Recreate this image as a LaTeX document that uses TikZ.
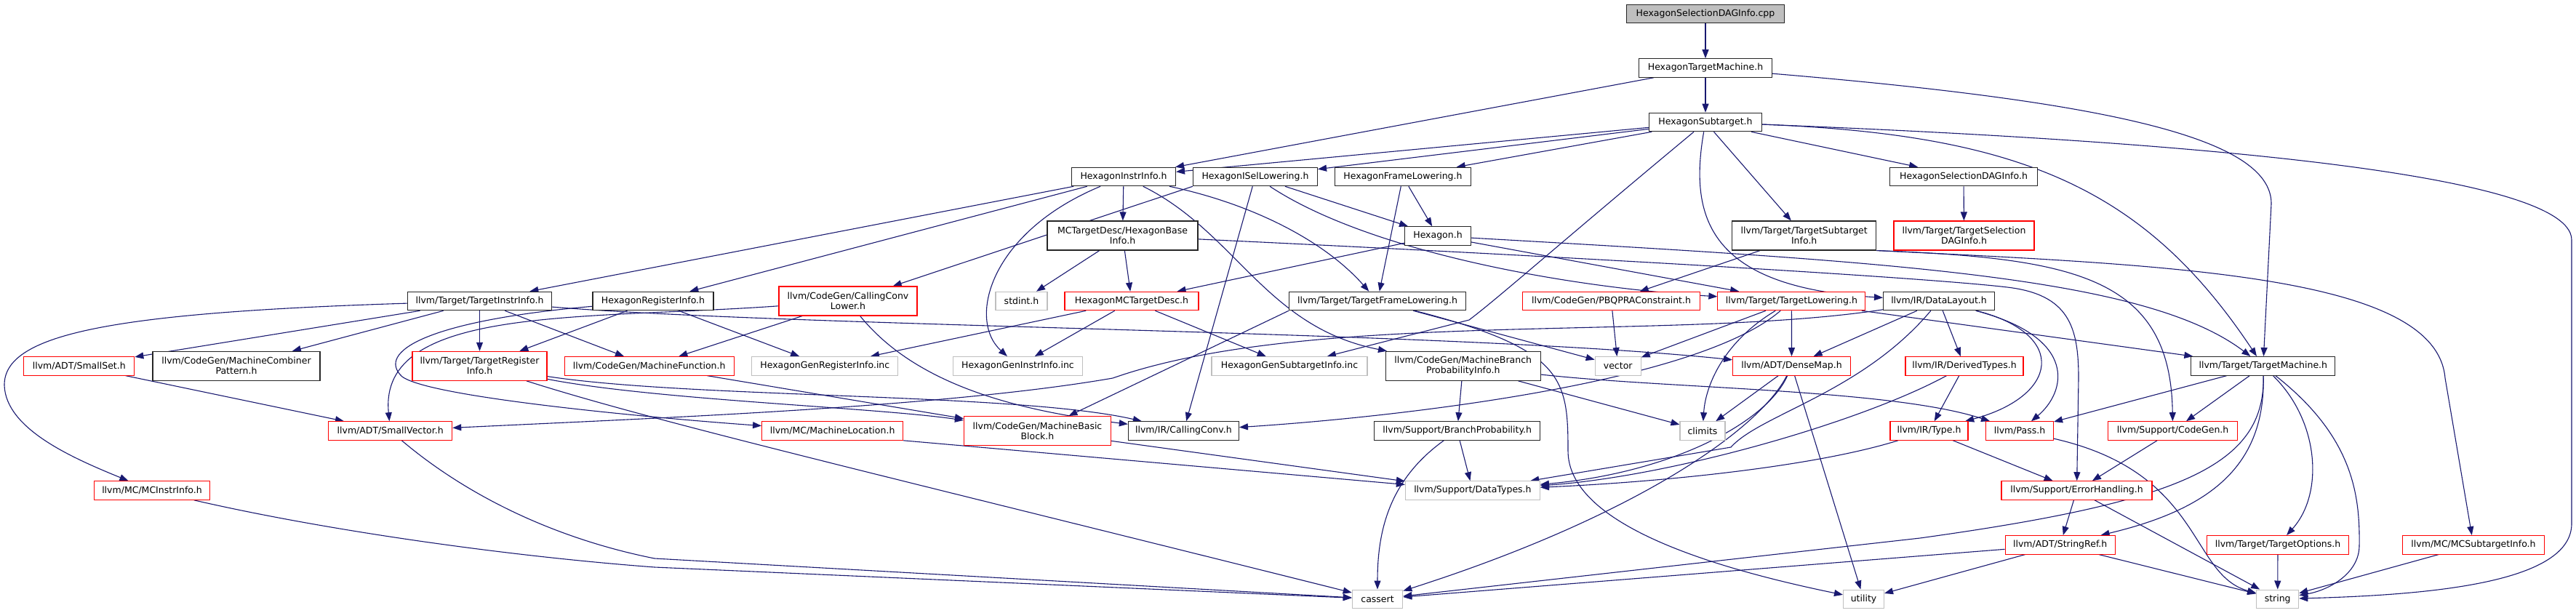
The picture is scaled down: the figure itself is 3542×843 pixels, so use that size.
\documentclass[tikz,border=0pt]{standalone}
\usepackage{fontspec}
\setmainfont{DejaVu Sans}
\usetikzlibrary{arrows.meta,backgrounds}
\definecolor{edgeblue}{HTML}{191970}
\definecolor{incred}{HTML}{FF0000}
\definecolor{incgrey}{HTML}{BFBFBF}
\tikzset{
  file/.style={draw=black!85,line width=1.1pt,fill=white,align=center,inner xsep=2pt,inner ysep=0pt,minimum height=25.5pt,font=\fontsize{12.5}{14}\selectfont},
  trunc/.style={file,draw=incred},
  sysfile/.style={file,draw=incgrey},
  srcfile/.style={file,fill=incgrey},
  twoline/.style={minimum height=40pt},
  dep/.style={draw=edgeblue,line width=1.1pt,-{Triangle[length=12pt,width=9pt]}}
}

\begin{document}
\begin{tikzpicture}[x=1pt,y=-1pt]
  \useasboundingbox (0,0) rectangle (3542,843);
  \node[srcfile,minimum width=217pt] (cpp) at (2345,19) {HexagonSelectionDAGInfo.cpp};
  \node[file,minimum width=183pt] (htm) at (2345,93.5) {HexagonTargetMachine.h};
  \node[file,minimum width=155pt] (hsub) at (2345,168) {HexagonSubtarget.h};
  \node[file,minimum width=143pt] (hii) at (1545,243) {HexagonInstrInfo.h};
  \node[file,minimum width=171pt] (hisel) at (1726,243) {HexagonISelLowering.h};
  \node[file,minimum width=187pt] (hfl) at (1929,243) {HexagonFrameLowering.h};
  \node[file,minimum width=203pt] (hsdag) at (2700,243) {HexagonSelectionDAGInfo.h};
  \node[file,twoline,minimum width=207pt] (baseinfo) at (1543.5,324) {MCTargetDesc/HexagonBase\\Info.h};
  \node[file,minimum width=91pt] (hexh) at (1977,324.5) {Hexagon.h};
  \node[file,twoline,minimum width=198pt] (tsi) at (2480.7,324) {llvm/Target/TargetSubtarget\\Info.h};
  \node[trunc,twoline,minimum width=193pt] (tsdag) at (2700.5,324) {llvm/Target/TargetSelection\\DAGInfo.h};
  \node[file,minimum width=198pt] (tii) at (659.5,414) {llvm/Target/TargetInstrInfo.h};
  \node[file,minimum width=166pt] (hri) at (898,414) {HexagonRegisterInfo.h};
  \node[trunc,twoline,minimum width=190pt] (ccl) at (1166,414) {llvm/CodeGen/CallingConv\\Lower.h};
  \node[sysfile,minimum width=71pt] (stdint) at (1404.5,414) {stdint.h};
  \node[trunc,minimum width=184pt] (hmctd) at (1556,414) {HexagonMCTargetDesc.h};
  \node[file,minimum width=243pt] (tfl) at (1894,414) {llvm/Target/TargetFrameLowering.h};
  \node[trunc,minimum width=244pt] (pbqp) at (2215.5,414) {llvm/CodeGen/PBQPRAConstraint.h};
  \node[trunc,minimum width=203pt] (tl) at (2463.4,414) {llvm/Target/TargetLowering.h};
  \node[file,minimum width=153pt] (dl) at (2666,414) {llvm/IR/DataLayout.h};
  \node[trunc,minimum width=152pt] (smallset) at (108.8,503.3) {llvm/ADT/SmallSet.h};
  \node[file,twoline,minimum width=230pt] (mcp) at (325,503.3) {llvm/CodeGen/MachineCombiner\\Pattern.h};
  \node[trunc,twoline,minimum width=185pt] (tri) at (659.5,503.3) {llvm/Target/TargetRegister\\Info.h};
  \node[trunc,minimum width=233pt] (mf) at (892.7,503.3) {llvm/CodeGen/MachineFunction.h};
  \node[sysfile,minimum width=201pt] (genreg) at (1134.3,503.3) {HexagonGenRegisterInfo.inc};
  \node[sysfile,minimum width=178pt] (geninstr) at (1399.5,503.3) {HexagonGenInstrInfo.inc};
  \node[sysfile,minimum width=214pt] (gensub) at (1773,503.3) {HexagonGenSubtargetInfo.inc};
  \node[file,twoline,minimum width=213pt] (mbpi) at (2011.7,503.3) {llvm/CodeGen/MachineBranch\\ProbabilityInfo.h};
  \node[sysfile,minimum width=63pt] (vector) at (2224.7,503.3) {vector};
  \node[trunc,minimum width=162pt] (densemap) at (2463.5,503.3) {llvm/ADT/DenseMap.h};
  \node[trunc,minimum width=162pt] (derived) at (2701,503.3) {llvm/IR/DerivedTypes.h};
  \node[file,minimum width=198pt] (tm) at (3111.8,503.3) {llvm/Target/TargetMachine.h};
  \node[trunc,minimum width=170pt] (smallvec) at (536.7,592.5) {llvm/ADT/SmallVector.h};
  \node[trunc,minimum width=194pt] (mloc) at (1144.6,592.5) {llvm/MC/MachineLocation.h};
  \node[trunc,twoline,minimum width=202pt] (mbb) at (1426.5,592.5) {llvm/CodeGen/MachineBasic\\Block.h};
  \node[file,minimum width=152pt] (cconv) at (1627.4,592.5) {llvm/IR/CallingConv.h};
  \node[file,minimum width=228pt] (bprob) at (2003.7,592.5) {llvm/Support/BranchProbability.h};
  \node[sysfile,minimum width=62pt] (climits) at (2341,592.5) {climits};
  \node[trunc,minimum width=107pt] (type) at (2652.5,592.5) {llvm/IR/Type.h};
  \node[trunc,minimum width=93pt] (pass) at (2777,592.5) {llvm/Pass.h};
  \node[trunc,minimum width=178pt] (codegen) at (2987.5,592.5) {llvm/Support/CodeGen.h};
  \node[trunc,minimum width=158.5pt] (mcinstr) at (209,674.5) {llvm/MC/MCInstrInfo.h};
  \node[sysfile,minimum width=185pt] (datatypes) at (2024.9,674.5) {llvm/Support/DataTypes.h};
  \node[trunc,minimum width=207pt] (errh) at (2855.5,674.5) {llvm/Support/ErrorHandling.h};
  \node[trunc,minimum width=151pt] (stringref) at (2832.7,749.3) {llvm/ADT/StringRef.h};
  \node[trunc,minimum width=194.5pt] (topts) at (3132,749.3) {llvm/Target/TargetOptions.h};
  \node[trunc,minimum width=194.5pt] (mcsti) at (3401,749.3) {llvm/MC/MCSubtargetInfo.h};
  \node[sysfile,minimum width=69.5pt] (cassert) at (1894,823.8) {cassert};
  \node[sysfile,minimum width=56pt] (utility) at (2562.5,823.8) {utility};
  \node[sysfile,minimum width=58pt] (string) at (3131.7,823.8) {string};
  \begin{scope}[on background layer]
    \draw[dep] (cpp) -- (htm);
    \draw[dep] (htm) -- (hsub);
    \draw[dep] (htm) -- (hii);
    \draw[dep] (htm) .. controls (2900,140) and (3123,190) .. (3123,280) -- (tm);
    \draw[dep] (hsub) -- (hii);
    \draw[dep] (hsub) -- (hisel);
    \draw[dep] (hsub) -- (hfl);
    \draw[dep] (hsub) -- (hsdag);
    \draw[dep] (hsub) -- (tsi);
    \draw[dep] (hsub) .. controls (2780,185) and (2950,260) .. (tm);
    \draw[dep] (hsub) .. controls (2900,190) and (3536,230) .. (3536,330) -- (3536,720) .. controls (3536,800) and (3350,818) .. (string);
    \draw[dep] (hsub) .. controls (2150,330) and (2060,410) .. (2020,440) -- (gensub);
    \draw[dep] (hsub) .. controls (2322,300) and (2350,395) .. (dl);
    \draw[dep] (hsdag) -- (tsdag);
    \draw[dep] (hii) -- (tii);
    \draw[dep] (hii) -- (hri);
    \draw[dep] (hii) -- (baseinfo);
    \draw[dep] (hii) .. controls (1360,320) and (1330,440) .. (geninstr);
    \draw[dep] (hii) .. controls (1720,280) and (1820,330) .. (tfl);
    \draw[dep] (hii) .. controls (1700,320) and (1740,450) .. (mbpi);
    \draw[dep] (hisel) -- (hexh);
    \draw[dep] (hisel.south west) -- (ccl);
    \draw[dep] (hisel) .. controls (1880,345) and (2150,395) .. (tl);
    \draw[dep] (hisel) -- (cconv);
    \draw[dep] (hfl) -- (hexh);
    \draw[dep] (hfl) -- (tfl);
    \draw[dep] (hexh) -- (hmctd);
    \draw[dep] (hexh) -- (tl);
    \draw[dep] (hexh) .. controls (2600,360) and (2950,380) .. (tm);
    \draw[dep] (baseinfo) -- (stdint);
    \draw[dep] (baseinfo) -- (hmctd);
    \draw[dep] (baseinfo) .. controls (2200,355) and (2650,382) .. (2760,395) .. controls (2845,405) and (2858,450) .. (2858,520) -- (errh);
    \draw[dep] (hmctd) -- (genreg);
    \draw[dep] (hmctd) -- (geninstr);
    \draw[dep] (hmctd) -- (gensub);
    \draw[dep] (tsi) -- (pbqp);
    \draw[dep] (tsi.south east) .. controls (2850,355) and (2985,380) .. (codegen);
    \draw[dep] (tsi.south east) .. controls (3000,365) and (3350,380) .. (3362,520) -- (mcsti);
    \draw[dep] (tfl.south west) -- (mbb);
    \draw[dep] (tfl) -- (vector);
    \draw[dep] (tfl) .. controls (2150,480) and (2156,520) .. (2156,620) .. controls (2156,720) and (2350,780) .. (utility);
    \draw[dep] (pbqp) -- (vector);
    \draw[dep] (tl) -- (densemap);
    \draw[dep] (tl) -- (vector);
    \draw[dep] (tl) .. controls (2370,470) and (2345,530) .. (climits);
    \draw[dep] (tl) .. controls (2330,530) and (1900,575) .. (cconv);
    \draw[dep] (tl) -- (tm);
    \draw[dep] (dl) -- (densemap);
    \draw[dep] (dl) -- (derived);
    \draw[dep] (dl) .. controls (2845,460) and (2830,545) .. (type);
    \draw[dep] (dl) .. controls (2860,465) and (2840,540) .. (pass);
    \draw[dep] (dl) .. controls (2560,540) and (2420,570) .. (2380,615) -- (datatypes);
    \draw[dep] (dl) .. controls (2300,470) and (1800,425) .. (1530,520) .. controls (1300,560) and (900,575) .. (smallvec);
    \draw[dep] (derived) -- (type);
    \draw[dep] (derived) .. controls (2560,580) and (2300,655) .. (datatypes);
    \draw[dep] (type) -- (errh);
    \draw[dep] (type) .. controls (2500,640) and (2300,662) .. (datatypes);
    \draw[dep] (pass) .. controls (3030,650) and (3010,790) .. (string);
    \draw[dep] (codegen) -- (errh);
    \draw[dep] (tm) -- (pass);
    \draw[dep] (tm) -- (codegen);
    \draw[dep] (tm) .. controls (3115,640) and (3040,700) .. (stringref);
    \draw[dep] (tm) .. controls (3115,640) and (3000,690) .. (2640,740) -- (cassert);
    \draw[dep] (tm) .. controls (3190,580) and (3195,680) .. (topts);
    \draw[dep] (tm) .. controls (3235,600) and (3245,680) .. (3244,750) .. controls (3244,790) and (3200,812) .. (string);
    \draw[dep] (errh) -- (stringref);
    \draw[dep] (errh) -- (string);
    \draw[dep] (stringref) -- (string);
    \draw[dep] (stringref) -- (cassert);
    \draw[dep] (stringref) -- (utility);
    \draw[dep] (topts) -- (string);
    \draw[dep] (mcsti) -- (string);
    \draw[dep] (tii) -- (smallset);
    \draw[dep] (tii) -- (mcp);
    \draw[dep] (tii) -- (tri);
    \draw[dep] (tii) -- (mf);
    \draw[dep] (tii) .. controls (1100,450) and (2000,455) .. (densemap);
    \draw[dep] (tii) .. controls (150,430) and (5,460) .. (6,530) .. controls (8,590) and (100,630) .. (mcinstr);
    \draw[dep] (hri) -- (tri);
    \draw[dep] (hri) -- (genreg);
    \draw[dep] (hri) .. controls (600,440) and (520,480) .. (550,515) .. controls (570,545) and (900,575) .. (mloc);
    \draw[dep] (ccl) -- (mf);
    \draw[dep] (ccl) .. controls (1260,530) and (1400,565) .. (cconv);
    \draw[dep] (ccl) .. controls (800,440) and (520,420) .. (smallvec);
    \draw[dep] (tri) .. controls (900,550) and (1200,560) .. (mbb);
    \draw[dep] (tri) .. controls (950,548) and (1400,540) .. (cconv);
    \draw[dep] (tri) .. controls (900,580) and (1200,650) .. (cassert);
    \draw[dep] (mf) -- (mbb);
    \draw[dep] (smallset) -- (smallvec);
    \draw[dep] (smallvec) .. controls (640,680) and (760,740) .. (900,768) -- (cassert);
    \draw[dep] (mcinstr) .. controls (450,730) and (700,765) .. (900,780) -- (cassert);
    \draw[dep] (mloc.south east) -- (datatypes);
    \draw[dep] (mbb) -- (datatypes);
    \draw[dep] (mbpi) -- (bprob);
    \draw[dep] (mbpi) -- (climits);
    \draw[dep] (mbpi) .. controls (2300,535) and (2600,535) .. (pass);
    \draw[dep] (bprob) -- (datatypes);
    \draw[dep] (bprob) .. controls (1910,660) and (1894,730) .. (cassert);
    \draw[dep] (densemap) -- (climits);
    \draw[dep] (densemap) .. controls (2430,580) and (2300,650) .. (datatypes);
    \draw[dep] (densemap) .. controls (2420,590) and (2250,710) .. (cassert);
    \draw[dep] (densemap) -- (utility);
  \end{scope}
\end{tikzpicture}
\end{document}
